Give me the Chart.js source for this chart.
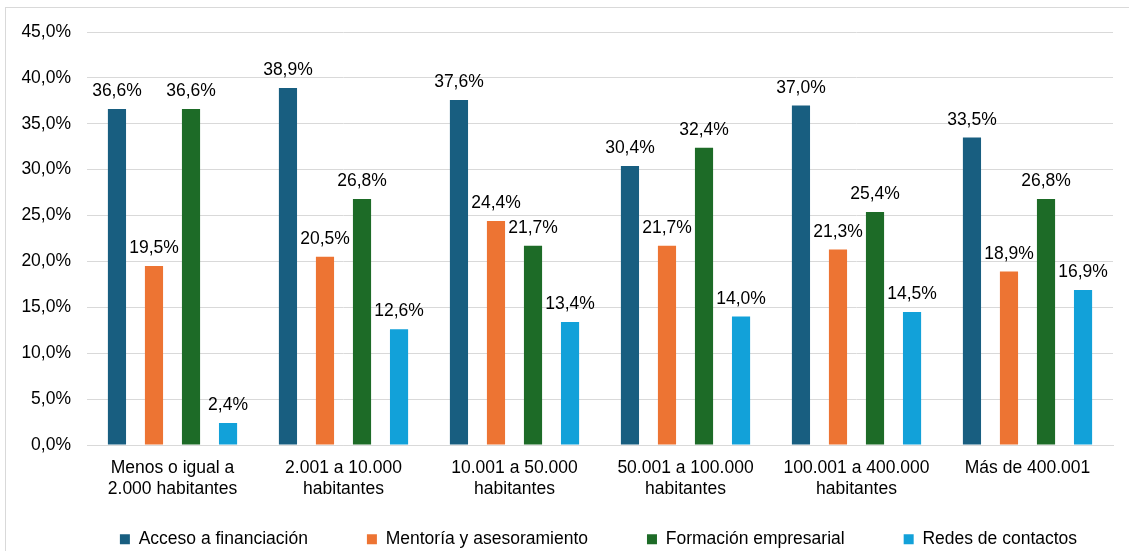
<!DOCTYPE html>
<html lang="es">
<head>
  <meta charset="UTF-8">
  <title>Ayudas por tamaño de municipio</title>
  <script src="https://cdn.jsdelivr.net/npm/chart.js"></script>
  <style>
    body { margin: 0; background: #fff; font-family: "Liberation Sans", Arial, sans-serif; }
    .frame { position: absolute; left: 5px; top: 7px; width: 1200px; height: 600px; border: 1px solid #d9d9d9; }
    .wrap { position: absolute; left: 0; top: 0; width: 1129px; height: 551px; }
  </style>
</head>
<body>
  <div class="frame"></div>
  <div class="wrap"><canvas id="grafico"></canvas></div>
  <script>
    // categorias (tamaño de municipio)
    const categorias = [
      ['Menos o igual a', '2.000 habitantes'],
      ['2.001 a 10.000', 'habitantes'],
      ['10.001 a 50.000', 'habitantes'],
      ['50.001 a 100.000', 'habitantes'],
      ['100.001 a 400.000', 'habitantes'],
      'Más de 400.001'
    ];

    // valores en %
    const accesoFinanciacion = [36.6, 38.9, 37.6, 30.4, 37.0, 33.5];
    const mentoria = [19.5, 20.5, 24.4, 21.7, 21.3, 18.9];
    const formacion = [36.6, 26.8, 21.7, 32.4, 25.4, 26.8];
    const redesContactos = [2.4, 12.6, 13.4, 14.0, 14.5, 16.9];

    const fuente = '"Liberation Sans", Arial, sans-serif';
    const fmt = v => v.toFixed(1).replace('.', ',') + '%';

    // etiquetas encima de cada barra
    const etiquetas = {
      id: 'etiquetas',
      afterDatasetsDraw(chart) {
        const ctx = chart.ctx;
        ctx.save();
        ctx.font = '17.5px ' + fuente;
        ctx.fillStyle = '#000';
        ctx.textAlign = 'center';
        ctx.textBaseline = 'bottom';
        chart.data.datasets.forEach((ds, i) => {
          chart.getDatasetMeta(i).data.forEach((bar, j) => {
            ctx.fillText(fmt(ds.data[j]), bar.x, bar.y - 9);
          });
        });
        ctx.restore();
      }
    };

    // ajustes: etiquetas del eje x sin recorte y leyenda algo desplazada a la derecha
    const ajustes = {
      id: 'ajustes',
      afterLayout(chart) {
        chart.scales.x._computeLabelArea = () => undefined;
        chart.legend.left += 42;
        chart.legend.right += 42;
      }
    };

    new Chart(document.getElementById('grafico'), {
      type: 'bar',
      data: {
        labels: categorias,
        datasets: [
          { label: 'Acceso a financiación', data: accesoFinanciacion, backgroundColor: '#185e80' },
          { label: 'Mentoría y asesoramiento', data: mentoria, backgroundColor: '#ed7433' },
          { label: 'Formación empresarial', data: formacion, backgroundColor: '#1d6b27' },
          { label: 'Redes de contactos', data: redesContactos, backgroundColor: '#12a1d9' }
        ]
      },
      options: {
        responsive: true,
        maintainAspectRatio: false,
        animation: false,
        categoryPercentage: 0.866,
        barPercentage: 0.49,
        layout: { padding: { top: 32, right: 16, bottom: -7, left: 0 } },
        plugins: {
          legend: {
            position: 'bottom',
            labels: {
              font: { family: fuente, size: 17.5 },
              color: '#000',
              boxWidth: 10,
              boxHeight: 10,
              padding: 59
            }
          },
          tooltip: { enabled: false }
        },
        scales: {
          x: {
            grid: { display: false, drawTicks: false },
            border: { color: '#d9d9d9' },
            ticks: {
              color: '#000',
              font: { family: fuente, size: 17.5 },
              padding: 13,
              maxRotation: 0,
              autoSkip: false
            },
            afterFit: s => { s.height = 26.5; }
          },
          y: {
            min: 0,
            max: 45,
            grid: { color: '#d9d9d9', drawTicks: false },
            border: { display: false },
            ticks: {
              stepSize: 5,
              padding: 16,
              color: '#000',
              font: { family: fuente, size: 17.5 },
              callback: v => fmt(v)
            },
            afterFit: s => { s.width = 87; }
          }
        }
      },
      plugins: [etiquetas, ajustes]
    });
  </script>
</body>
</html>
